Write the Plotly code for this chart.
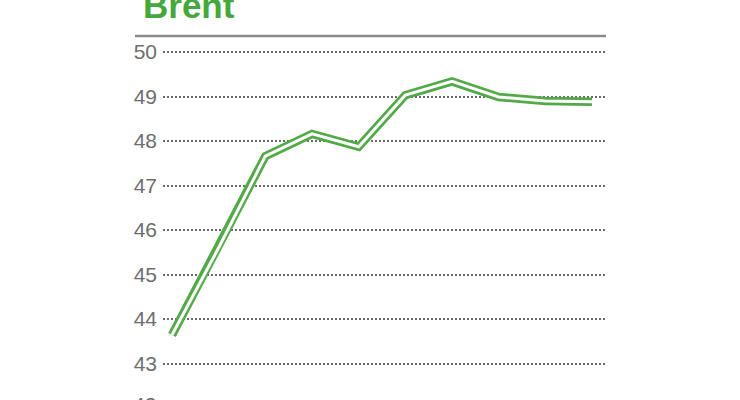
import plotly.graph_objects as go

periods = list(range(10))
brent = [43.64, 45.6, 47.66, 48.16, 47.87, 49.03, 49.34, 48.99, 48.90, 48.88]
y_ticks = [43, 44, 45, 46, 47, 48, 49, 50]
title_text = "Brent"

W, H = 740, 400
L, R, T = 163, 606, 36
plot_w = R - L
plot_h = H - T
y_lo, y_hi = 42.18, 50.36

fig = go.Figure()
fig.add_trace(go.Scatter(x=periods, y=brent, mode="lines",
                         line=dict(color="#52a947", width=8.5), hoverinfo="skip"))
fig.add_trace(go.Scatter(x=periods, y=brent, mode="lines",
                         line=dict(color="#ffffff", width=3), hoverinfo="skip"))

fig.update_layout(
    width=W, height=H,
    margin=dict(l=L, r=W - R, t=T, b=0, pad=0),
    paper_bgcolor="white", plot_bgcolor="white",
    showlegend=False,
    xaxis=dict(range=[-0.193, 9.3], showgrid=False, zeroline=False,
               showticklabels=False, showline=False, fixedrange=True),
    yaxis=dict(range=[y_lo, y_hi], tickvals=y_ticks,
               ticktext=[str(v) for v in y_ticks],
               showgrid=True, gridcolor="#6a6a6a", gridwidth=2, griddash="1.5px,2.5px",
               zeroline=False, showline=False, ticks="", ticklabelstandoff=5,
               tickfont=dict(family="Liberation Sans, Arial, sans-serif", size=21, color="#6e6e6e"),
               fixedrange=True),
)

fig.add_shape(type="line", xref="paper", yref="paper",
              x0=(135 - L) / plot_w, x1=1.0, y0=1.0, y1=1.0,
              line=dict(color="#8a8a8a", width=2.5))

fig.add_annotation(text=title_text, xref="paper", yref="paper",
                   x=(141 - L) / plot_w, y=1.0 + 31 / plot_h,
                   xanchor="left", yanchor="middle", showarrow=False,
                   font=dict(family="Liberation Sans, Arial, sans-serif", size=35,
                             color="#45a83c", weight="bold"))

fig.add_annotation(text="42", xref="paper", yref="paper", x=-5 / plot_w,
                   y=(42 - y_lo) / (y_hi - y_lo),
                   xanchor="right", yanchor="middle", yshift=4, showarrow=False,
                   font=dict(family="Liberation Sans, Arial, sans-serif", size=21, color="#6e6e6e"))

fig.write_html(
    "out.html",
    config={"displayModeBar": False, "staticPlot": True},
    post_script="document.body.style.margin='0';document.body.style.overflow='hidden';",
)
